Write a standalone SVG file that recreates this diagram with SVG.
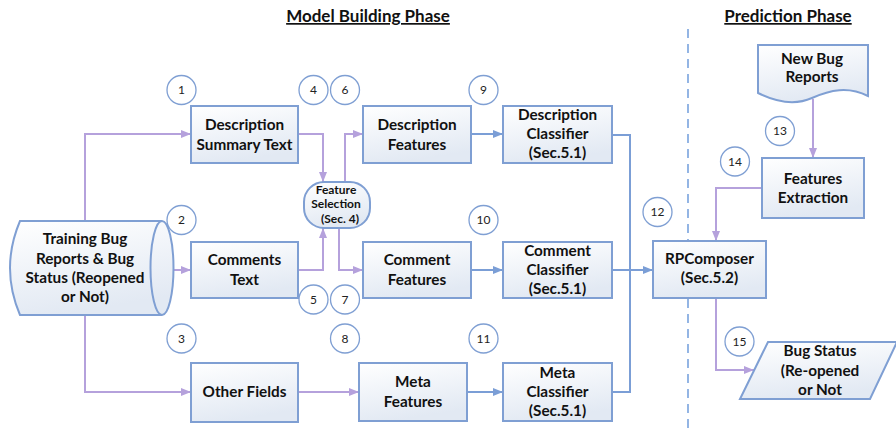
<svg xmlns="http://www.w3.org/2000/svg" width="896" height="430" viewBox="0 0 896 430">
<defs>
<linearGradient id="g" x1="0" y1="0" x2="0.3" y2="1">
<stop offset="0" stop-color="#ffffff"/>
<stop offset="1" stop-color="#e2e9f3"/>
</linearGradient>
<marker id="ap" markerWidth="10" markerHeight="8" refX="10" refY="4" orient="auto" markerUnits="userSpaceOnUse">
<path d="M0,0 L10,4 L0,8 Z" fill="#b5a1dc"/>
</marker>
<marker id="ab" markerWidth="10" markerHeight="8" refX="10" refY="4" orient="auto" markerUnits="userSpaceOnUse">
<path d="M0,0 L10,4 L0,8 Z" fill="#7b9ed6"/>
</marker>
<style>
.box{fill:url(#g);stroke:#7f9fd3;stroke-width:2}
.t{font-family:Lato,"Liberation Sans",Arial,sans-serif;font-weight:bold;font-size:15.3px;fill:#111;text-anchor:middle}
.ts{font-family:Lato,"Liberation Sans",Arial,sans-serif;font-weight:bold;font-size:12px;fill:#111;text-anchor:middle}
.title{font-family:Lato,"Liberation Sans",Arial,sans-serif;font-weight:bold;font-size:17px;fill:#111;text-anchor:middle;text-decoration:underline}
.c circle{fill:#fff;stroke:#7f9fd3;stroke-width:1.3}
.c text{font-family:Lato,"Liberation Sans",Arial,sans-serif;font-size:12px;fill:#222;text-anchor:middle}
.pp{fill:none;stroke:#b5a1dc;stroke-width:2;marker-end:url(#ap)}
.pb{fill:none;stroke:#7b9ed6;stroke-width:2;marker-end:url(#ab)}
.pbn{fill:none;stroke:#7b9ed6;stroke-width:2}
</style>
</defs>
<rect width="896" height="430" fill="#fff"/>

<text class="title" x="368" y="22">Model Building Phase</text>
<text class="title" x="788" y="22">Prediction Phase</text>
<line x1="688" y1="29" x2="688" y2="430" stroke="#5b8ed6" stroke-width="1.3" stroke-dasharray="9,6"/>

<g id="connectors">
<path class="pp" d="M85,221 V134 H191"/>
<path class="pp" d="M152,270 H191"/>
<path class="pp" d="M85,316 V392 H191"/>
<path class="pp" d="M298,134 H323 V182"/>
<path class="pp" d="M298,270 H323 V228"/>
<path class="pp" d="M345,182 V134 H363"/>
<path class="pp" d="M339,228 V270 H363"/>
<path class="pp" d="M298,392 H359"/>
<path class="pb" d="M471,134 H503"/>
<path class="pb" d="M471,270 H503"/>
<path class="pb" d="M467,392 H503"/>
<path class="pbn" d="M612,135 H630 V392 H612"/>
<path class="pb" d="M612,270 H653"/>
<path class="pp" d="M813,99 V158"/>
<path class="pp" d="M762,188 H716 V241"/>
<path class="pp" d="M716,298 V370 H754"/>
</g>

<g id="training">
<path class="box" d="M20,221 H162 A11.5,47 0 0 1 162,315 H20 Q0,268 20,221 Z"/>
<path d="M162,221 A11.5,47 0 0 0 162,315" fill="none" stroke="#7f9fd3" stroke-width="2"/>
<text class="t" x="85" y="244">Training Bug</text>
<text class="t" x="85" y="263.5">Reports &amp; Bug</text>
<text class="t" x="85" y="283">Status (Reopened</text>
<text class="t" x="85" y="302">or Not)</text>
</g>

<g id="desc-summary">
<rect class="box" x="191" y="106" width="107" height="57"/>
<text class="t" x="244.5" y="130">Description</text>
<text class="t" x="244.5" y="150">Summary Text</text>
</g>
<g id="comments-text">
<rect class="box" x="191" y="242" width="107" height="56"/>
<text class="t" x="244.5" y="265">Comments</text>
<text class="t" x="244.5" y="285">Text</text>
</g>
<g id="other-fields">
<rect class="box" x="191" y="363" width="107" height="59"/>
<text class="t" x="244.5" y="397">Other Fields</text>
</g>

<g id="feature-selection">
<rect class="box" x="304" y="182" width="66" height="46" rx="20" ry="20"/>
<text class="ts" x="336" y="193.5">Feature</text>
<text class="ts" x="336" y="208">Selection</text>
<text class="ts" x="340" y="223">(Sec. 4)</text>
</g>

<g id="desc-features">
<rect class="box" x="363" y="106" width="108" height="57"/>
<text class="t" x="417" y="130">Description</text>
<text class="t" x="417" y="150">Features</text>
</g>
<g id="comment-features">
<rect class="box" x="363" y="242" width="108" height="56"/>
<text class="t" x="417" y="265">Comment</text>
<text class="t" x="417" y="285">Features</text>
</g>
<g id="meta-features">
<rect class="box" x="359" y="363" width="108" height="58"/>
<text class="t" x="413" y="387">Meta</text>
<text class="t" x="413" y="407">Features</text>
</g>

<g id="desc-classifier">
<rect class="box" x="503" y="106" width="109" height="57"/>
<text class="t" x="557.5" y="119.5">Description</text>
<text class="t" x="557.5" y="139">Classifier</text>
<text class="t" x="557.5" y="158">(Sec.5.1)</text>
</g>
<g id="comment-classifier">
<rect class="box" x="503" y="242" width="109" height="56"/>
<text class="t" x="557.5" y="255.5">Comment</text>
<text class="t" x="557.5" y="274.5">Classifier</text>
<text class="t" x="557.5" y="293.5">(Sec.5.1)</text>
</g>
<g id="meta-classifier">
<rect class="box" x="503" y="363" width="109" height="58"/>
<text class="t" x="557.5" y="377.5">Meta</text>
<text class="t" x="557.5" y="396.5">Classifier</text>
<text class="t" x="557.5" y="415.5">(Sec.5.1)</text>
</g>

<g id="rpcomposer">
<rect class="box" x="653" y="241" width="113" height="57"/>
<text class="t" x="709.5" y="264">RPComposer</text>
<text class="t" x="709.5" y="283">(Sec.5.2)</text>
</g>

<g id="new-bug-reports">
<path class="box" d="M758,45 H868 V96 C848,86 830,90 812,98 C794,106 776,102 758,93 Z"/>
<text class="t" x="812" y="63.5">New Bug</text>
<text class="t" x="812" y="82">Reports</text>
</g>

<g id="features-extraction">
<rect class="box" x="762" y="158" width="102" height="60"/>
<text class="t" x="813" y="183.5">Features</text>
<text class="t" x="813" y="203">Extraction</text>
</g>

<g id="bug-status">
<path class="box" d="M768,342 H897 L870,399 H740 Z"/>
<text class="t" x="820" y="356">Bug Status</text>
<text class="t" x="820" y="375.5">(Re-opened</text>
<text class="t" x="820" y="394.5">or Not</text>
</g>

<g id="markers" class="c">
<g id="n1"><circle cx="181.5" cy="90" r="14.5"/><text x="181.5" y="94">1</text></g>
<g id="n2"><circle cx="181.5" cy="220" r="14.5"/><text x="181.5" y="224">2</text></g>
<g id="n3"><circle cx="181.5" cy="338.5" r="14.5"/><text x="181.5" y="342.5">3</text></g>
<g id="n4"><circle cx="313.5" cy="90" r="14.5"/><text x="313.5" y="94">4</text></g>
<g id="n6"><circle cx="345" cy="90" r="14.5"/><text x="345" y="94">6</text></g>
<g id="n5"><circle cx="313.5" cy="299.5" r="14.5"/><text x="313.5" y="303.5">5</text></g>
<g id="n7"><circle cx="345" cy="299.5" r="14.5"/><text x="345" y="303.5">7</text></g>
<g id="n8"><circle cx="345" cy="338.5" r="14.5"/><text x="345" y="342.5">8</text></g>
<g id="n9"><circle cx="483.5" cy="90" r="14.5"/><text x="483.5" y="94">9</text></g>
<g id="n10"><circle cx="483.5" cy="220" r="14.5"/><text x="483.5" y="224">10</text></g>
<g id="n11"><circle cx="483.5" cy="338.5" r="14.5"/><text x="483.5" y="342.5">11</text></g>
<g id="n12"><circle cx="657.5" cy="212" r="14.5"/><text x="657.5" y="216">12</text></g>
<g id="n13"><circle cx="780" cy="131" r="14.5"/><text x="780" y="135">13</text></g>
<g id="n14"><circle cx="735" cy="161.5" r="14.5"/><text x="735" y="165.5">14</text></g>
<g id="n15"><circle cx="739.5" cy="341.5" r="14.5"/><text x="739.5" y="345.5">15</text></g>
</g>
</svg>
